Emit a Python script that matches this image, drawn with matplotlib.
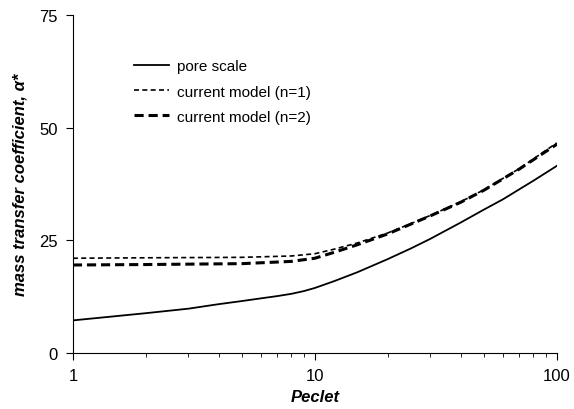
import matplotlib
matplotlib.use("Agg")
import matplotlib.pyplot as plt
from matplotlib.ticker import FixedLocator, NullFormatter

plt.rcParams['font.family'] = ['Liberation Sans', 'DejaVu Sans']

# data
pe_pore = [1, 2, 3, 4, 5, 6, 7, 8, 9, 10, 12, 15, 20, 25, 30, 40, 50, 60, 70, 80, 100]
alpha_pore = [7.2, 8.8, 9.8, 10.8, 11.5, 12.1, 12.6, 13.1, 13.7, 14.4, 15.9, 17.9, 20.8, 23.2, 25.3, 28.9, 31.8, 34.1, 36.3, 38.2, 41.5]

pe_model = [1, 2, 5, 8, 10, 12, 15, 20, 25, 30, 40, 50, 70, 100]
alpha_n1 = [21.0, 21.1, 21.2, 21.5, 22.0, 23.0, 24.4, 26.6, 28.7, 30.5, 33.5, 36.2, 40.9, 46.6]
alpha_n2 = [19.5, 19.6, 19.8, 20.3, 21.0, 22.3, 24.0, 26.4, 28.6, 30.4, 33.4, 36.1, 40.8, 46.3]

fig = plt.figure(figsize=(5.74, 4.10), dpi=100)
ax = fig.add_axes([0.127, 0.137, 0.843, 0.824])

ax.plot(pe_pore, alpha_pore, color='black', lw=1.3, label='pore scale')
ax.plot(pe_model, alpha_n1, color='black', lw=1.2, ls=(0, (3, 2)), label='current model (n=1)')
ax.plot(pe_model, alpha_n2, color='black', lw=2.2, ls=(0, (3, 1.6)), label='current model (n=2)')

ax.set_xscale('log')
ax.set_xlim(1, 100)
ax.set_ylim(0, 75)
ax.set_xticks([1, 10, 100])
ax.set_xticklabels(['1', '10', '100'])
ax.xaxis.set_minor_locator(FixedLocator([2, 3, 4, 5, 6, 7, 8, 9, 20, 30, 40, 50, 60, 70, 80, 90]))
ax.xaxis.set_minor_formatter(NullFormatter())
ax.set_yticks([0, 25, 50, 75])

for s in ['top', 'right']:
    ax.spines[s].set_visible(False)
ax.tick_params(axis='both', which='major', direction='out', length=5, labelsize=12, pad=6)
ax.tick_params(axis='x', which='minor', direction='out', length=3)

ax.set_xlabel('Peclet', fontsize=12, fontweight='bold', style='italic', labelpad=4)
ax.set_ylabel('mass transfer coefficient, α*', fontsize=12, fontweight='bold', style='italic', labelpad=8)

ax.legend(loc='upper left', bbox_to_anchor=(0.098, 0.909), frameon=False, fontsize=11,
          handlelength=2.3, handletextpad=0.5, labelspacing=0.73)

fig.savefig('out.png', dpi=100)
